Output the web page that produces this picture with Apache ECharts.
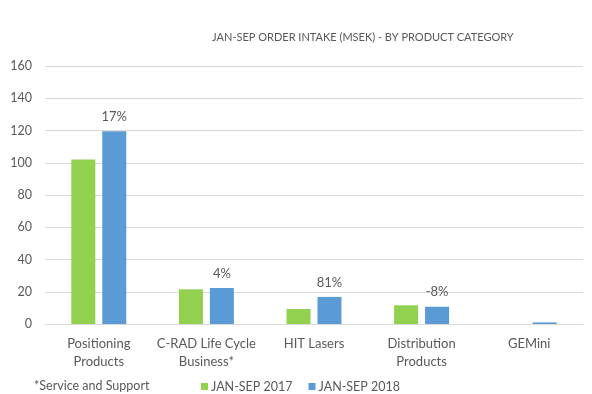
<!DOCTYPE html>
<html>
<head>
<meta charset="utf-8">
<script src="https://cdn.jsdelivr.net/npm/echarts@6/dist/echarts.min.js"></script>
<style>html,body{margin:0;padding:0;background:#fff}#c{width:592px;height:394px}</style>
</head>
<body>
<div id="c"></div>
<script>
const categories = ["Positioning\nProducts", "C-RAD Life Cycle\nBusiness*", "HIT Lasers", "Distribution\nProducts", "GEMini"];
const series2017 = [102, 21.5, 9.3, 11.6, 0];
const series2018 = [119.5, 22.4, 16.8, 10.7, 1];
const growthLabels = ["17%", "4%", "81%", "-8%", ""];
const yTicks = { min: 0, max: 160, interval: 20 };

const FONT = 'Lato';
const TXT = '#595959';
const chart = echarts.init(document.getElementById('c'));
chart.setOption({
  animation: false,
  textStyle: { fontFamily: FONT },
  grid: { left: 45, right: 9, top: 66, bottom: 70 },
  graphic: [
    { type: 'text', left: 212, top: 32, style: { text: 'JAN-SEP ORDER INTAKE (MSEK) - BY PRODUCT CATEGORY', font: '11px ' + FONT, fill: TXT } },
    { type: 'text', left: 34, top: 379, style: { text: '*Service and Support', font: '12.5px ' + FONT, fill: TXT } }
  ],
  legend: {
    left: 201, top: 380, padding: 0, itemWidth: 7, itemHeight: 7, itemGap: 16, icon: 'rect',
    textStyle: { fontSize: 12.5, color: TXT, fontFamily: FONT, padding: [0, 0, 0, -2] },
    data: ['JAN-SEP 2017', 'JAN-SEP 2018']
  },
  xAxis: {
    type: 'category', data: categories,
    axisLine: { lineStyle: { color: '#d9d9d9' } },
    axisTick: { show: false },
    axisLabel: { color: TXT, fontSize: 13, lineHeight: 18, margin: 11, interval: 0 }
  },
  yAxis: {
    type: 'value', min: yTicks.min, max: yTicks.max, interval: yTicks.interval,
    axisLine: { show: false }, axisTick: { show: false },
    splitLine: { lineStyle: { color: '#d9d9d9' } },
    axisLabel: { color: TXT, fontSize: 12.5, margin: 13 }
  },
  series: [
    { name: 'JAN-SEP 2017', type: 'bar', data: series2017, barWidth: 24, barGap: '29%',
      itemStyle: { color: '#92D050' } },
    { name: 'JAN-SEP 2018', type: 'bar', data: series2018, barWidth: 24,
      itemStyle: { color: '#5B9BD5' },
      label: { show: true, position: 'top', distance: 8, color: TXT, fontSize: 13,
        formatter: p => growthLabels[p.dataIndex] } }
  ]
});
</script>
</body>
</html>
